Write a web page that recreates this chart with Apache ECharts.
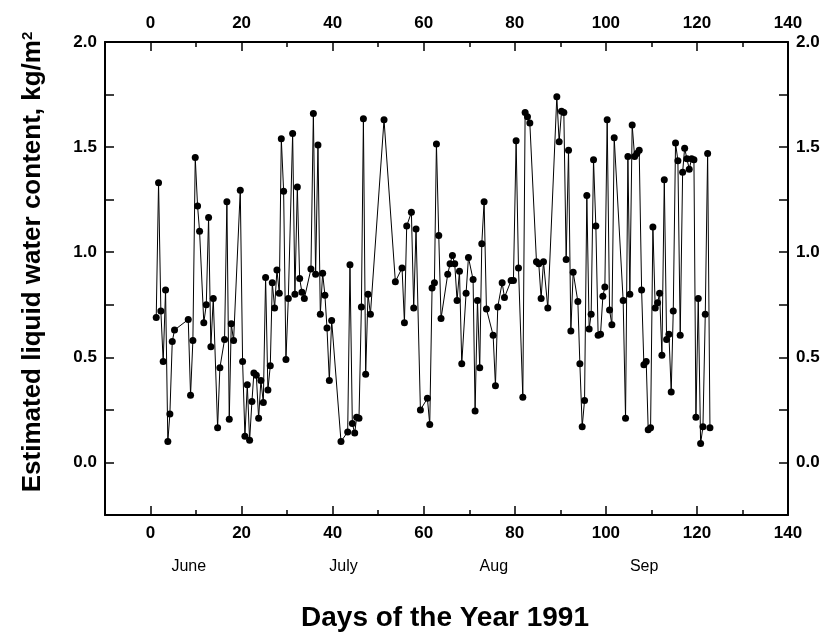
<!DOCTYPE html>
<html>
<head>
<meta charset="utf-8">
<title>Estimated liquid water content 1991</title>
<script src="https://cdn.jsdelivr.net/npm/echarts@6/dist/echarts.min.js"></script>
<style>
  html, body { margin: 0; padding: 0; background: #fff; }
  #chart { width: 830px; height: 635px; }
</style>
</head>
<body>
<div id="chart"></div>
<script>
// day of the series (twice-daily samples)
var days = [
  1.25, 1.76, 2.27, 2.78, 3.30, 3.80, 4.25, 4.77, 5.27, 8.28,
  8.79, 9.30, 9.82, 10.33, 10.77, 11.70, 12.24, 12.75, 13.25, 13.78,
  14.73, 15.23, 16.26, 16.77, 17.29, 17.73, 18.24, 19.71, 20.22, 20.73,
  21.25, 21.76, 22.27, 22.70, 23.23, 23.74, 24.24, 24.77, 25.27, 25.78,
  26.30, 26.74, 27.25, 27.76, 28.28, 28.72, 29.23, 29.74, 30.26, 31.21,
  31.71, 32.24, 32.75, 33.25, 33.78, 35.23, 35.76, 36.26, 36.77, 37.29,
  37.80, 38.30, 38.75, 39.27, 39.78, 41.83, 43.30, 43.80, 44.32, 44.84,
  45.27, 45.78, 46.31, 46.75, 47.25, 47.76, 48.29, 51.28, 53.77, 55.24,
  55.76, 56.26, 57.29, 57.80, 58.31, 59.27, 60.81, 61.32, 61.83, 62.35,
  62.79, 63.30, 63.80, 65.27, 65.78, 66.30, 66.81, 67.32, 67.85, 68.35,
  69.30, 69.82, 70.84, 71.28, 71.80, 72.30, 72.75, 73.26, 73.77, 75.24,
  75.75, 76.26, 77.22, 77.73, 79.19, 79.70, 80.29, 80.81, 81.76, 82.27,
  82.78, 83.30, 84.76, 85.27, 85.78, 86.30, 87.25, 89.23, 89.74, 90.26,
  90.77, 91.28, 91.80, 92.31, 92.82, 93.85, 94.29, 94.80, 95.32, 95.82,
  96.33, 96.77, 97.29, 97.80, 98.30, 98.83, 99.34, 99.78, 100.29, 100.81,
  101.32, 101.83, 103.80, 104.32, 104.84, 105.27, 105.78, 106.31, 106.81, 107.32,
  107.85, 108.35, 108.86, 109.30, 109.82, 110.33, 110.84, 111.36, 111.80, 112.31,
  112.83, 113.34, 113.85, 114.35, 114.80, 115.30, 115.82, 116.33, 116.86, 117.30,
  117.80, 118.31, 118.83, 119.34, 119.78, 120.29, 120.81, 121.32, 121.83, 122.35,
  122.86
];
// estimated liquid water content, kg/m2
var lwc = [
  0.69, 1.33, 0.72, 0.48, 0.82, 0.10, 0.23, 0.575, 0.63, 0.68,
  0.32, 0.58, 1.45, 1.22, 1.10, 0.665, 0.75, 1.165, 0.55, 0.78,
  0.165, 0.45, 0.585, 1.24, 0.205, 0.66, 0.58, 1.295, 0.48, 0.125,
  0.37, 0.105, 0.29, 0.425, 0.415, 0.21, 0.39, 0.285, 0.88, 0.345,
  0.46, 0.855, 0.735, 0.915, 0.805, 1.54, 1.29, 0.49, 0.78, 1.565,
  0.80, 1.31, 0.875, 0.81, 0.78, 0.92, 1.66, 0.895, 1.51, 0.705,
  0.90, 0.795, 0.64, 0.39, 0.675, 0.10, 0.145, 0.94, 0.185, 0.14,
  0.215, 0.21, 0.74, 1.635, 0.42, 0.80, 0.705, 1.63, 0.86, 0.925,
  0.665, 1.125, 1.19, 0.735, 1.11, 0.25, 0.305, 0.18, 0.83, 0.855,
  1.515, 1.08, 0.685, 0.895, 0.945, 0.985, 0.945, 0.77, 0.91, 0.47,
  0.805, 0.975, 0.87, 0.245, 0.77, 0.45, 1.04, 1.24, 0.73, 0.605,
  0.365, 0.74, 0.855, 0.785, 0.865, 0.865, 1.53, 0.925, 0.31, 1.665,
  1.645, 1.615, 0.955, 0.945, 0.78, 0.955, 0.735, 1.74, 1.525, 1.67,
  1.665, 0.965, 1.485, 0.625, 0.905, 0.765, 0.47, 0.17, 0.295, 1.27,
  0.635, 0.705, 1.44, 1.125, 0.605, 0.61, 0.79, 0.835, 1.63, 0.725,
  0.655, 1.545, 0.77, 0.21, 1.455, 0.80, 1.605, 1.455, 1.47, 1.485,
  0.82, 0.465, 0.48, 0.155, 0.165, 1.12, 0.735, 0.76, 0.805, 0.51,
  1.345, 0.585, 0.61, 0.335, 0.72, 1.52, 1.435, 0.605, 1.38, 1.495,
  1.445, 1.395, 1.445, 1.44, 0.215, 0.78, 0.09, 0.17, 0.705, 1.47,
  0.165
];
var months = ["June", "July", "Aug", "Sep"];
var monthCentres = [8.4, 42.4, 75.4, 108.4];

var FONT = "'Liberation Sans', Arial, sans-serif";

function xLabel(v) {
  return v % 20 === 0 ? String(v) : "";
}
function yLabel(v) {
  var d = v * 2;
  return Math.abs(d - Math.round(d)) < 1e-6 ? v.toFixed(1) : "";
}

function xAxisCfg(pos, margin) {
  return {
    type: "value",
    position: pos,
    min: -10,
    max: 140,
    splitNumber: 7,
    axisLine: { show: true, onZero: false, lineStyle: { color: "#000", width: 2 } },
    axisTick: { show: true, inside: true, length: 9, lineStyle: { color: "#000", width: 1.5 } },
    minorTick: { show: true, splitNumber: 2, length: 5, lineStyle: { color: "#000", width: 1.5 } },
    axisLabel: {
      show: true, margin: margin, color: "#000", fontFamily: FONT,
      fontWeight: "bold", fontSize: 17, formatter: xLabel
    },
    splitLine: { show: false },
    minorSplitLine: { show: false }
  };
}
function yAxisCfg(pos) {
  return {
    type: "value",
    position: pos,
    min: -0.25,
    max: 2.0,
    interval: 0.25,
    axisLine: { show: true, onZero: false, lineStyle: { color: "#000", width: 2 } },
    axisTick: { show: true, inside: true, length: 9, lineStyle: { color: "#000", width: 1.5 } },
    axisLabel: {
      show: true, margin: 8, color: "#000", fontFamily: FONT,
      fontWeight: "bold", fontSize: 17, formatter: yLabel
    },
    splitLine: { show: false }
  };
}

var chart = echarts.init(document.getElementById("chart"));

chart.setOption({
  backgroundColor: "#fff",
  animation: false,
  grid: { left: 105, right: 42, top: 42, bottom: 120 },
  xAxis: [xAxisCfg("bottom", 10), xAxisCfg("top", 10)],
  yAxis: [yAxisCfg("left"), yAxisCfg("right")],
  series: [
    {
      type: "line",
      xAxisIndex: 0,
      yAxisIndex: 0,
      data: days.map(function (d, i) { return [d, lwc[i]]; }),
      symbol: "circle",
      symbolSize: 7,
      showAllSymbol: true,
      itemStyle: { color: "#000" },
      lineStyle: { color: "#000", width: 1 }
    }
  ]
});

var graphics = [
  {
    type: "text",
    x: 445, y: 618,
    style: {
      text: "Days of the Year 1991",
      fill: "#000", fontFamily: FONT, fontWeight: "bold", fontSize: 28,
      align: "center", verticalAlign: "middle"
    }
  },
  {
    type: "text",
    x: 33, y: 262,
    rotation: Math.PI / 2,
    style: {
      text: "{a|Estimated liquid water content, kg/m}{s|2}",
      fill: "#000", align: "center", verticalAlign: "middle",
      rich: {
        a: { fontFamily: FONT, fontWeight: "bold", fontSize: 26, fill: "#000" },
        s: { fontFamily: FONT, fontWeight: "bold", fontSize: 15, fill: "#000", verticalAlign: "top" }
      }
    }
  }
];
months.forEach(function (m, i) {
  graphics.push({
    type: "text",
    x: chart.convertToPixel({ xAxisIndex: 0 }, monthCentres[i]),
    y: 567,
    style: {
      text: m, fill: "#000", fontFamily: FONT, fontSize: 16,
      align: "center", verticalAlign: "middle"
    }
  });
});
chart.setOption({ graphic: graphics });
</script>
</body>
</html>
